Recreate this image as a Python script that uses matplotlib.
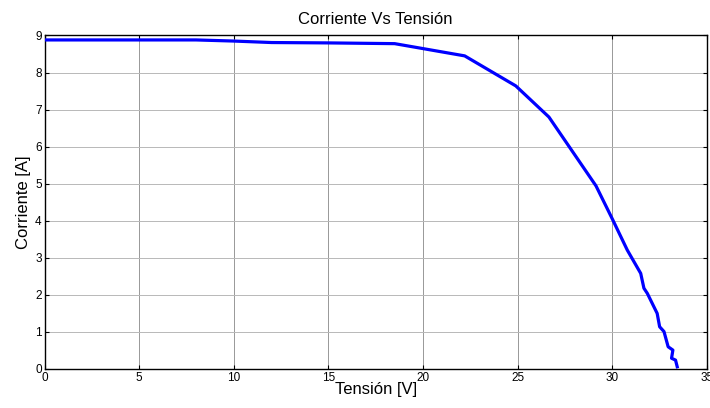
import matplotlib.pyplot as plt

plt.rcParams['font.family'] = ['Liberation Sans', 'DejaVu Sans']

# Curva I-V del panel
tension = [0, 4, 8, 10, 12, 15, 18.5, 22.2, 24.9, 26.65, 29.14, 30.0, 30.79,
           31.5, 31.67, 31.85, 32.37, 32.5, 32.73, 32.95, 33.2, 33.13, 33.34, 33.43]
corriente = [8.88, 8.88, 8.88, 8.85, 8.81, 8.80, 8.78, 8.45, 7.64, 6.80, 4.94, 4.05, 3.21,
             2.58, 2.18, 2.04, 1.50, 1.14, 1.01, 0.60, 0.51, 0.29, 0.24, 0.06]

xticks = list(range(0, 36, 5))
yticks = list(range(0, 10))

fig = plt.figure(figsize=(7.1, 4.08), dpi=100)
ax = fig.add_axes([0.0627, 0.0956, 0.933, 0.8174])

ax.plot(tension, corriente, color='#0000ff', linewidth=2.3, zorder=3)

ax.set_xlim(0, 35)
ax.set_ylim(0, 9)
ax.set_xticks(xticks)
ax.set_yticks(yticks)
ax.tick_params(direction='in', top=True, right=True, labelsize=8.5, pad=2, length=3)
ax.grid(True, axis='y', color='#b8b8b8', linestyle='-', linewidth=0.7)
ax.grid(True, axis='x', color='#707070', linestyle='-', linewidth=0.5)
for s in ax.spines.values():
    s.set_linewidth(1.0)

ax.set_title('Corriente Vs Tensión', fontsize=12, pad=8)
ax.set_xlabel('Tensión [V]', fontsize=12, labelpad=-1)
ax.set_ylabel('Corriente [A]', fontsize=12, labelpad=3)

fig.savefig('out.png', dpi=100)
